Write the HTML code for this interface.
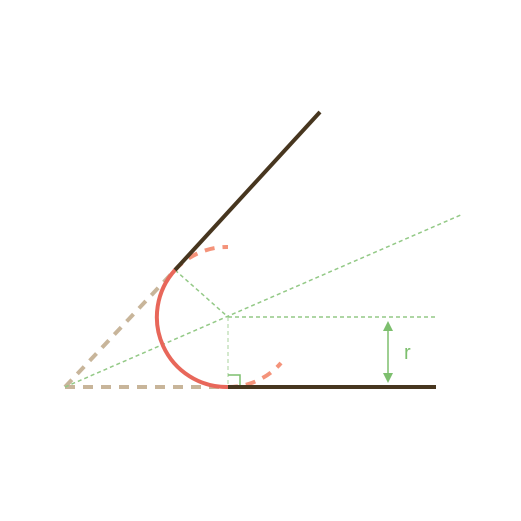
<!DOCTYPE html>
<html><head><style>body{margin:0;background:#fff}svg{display:block}</style></head>
<body>
<svg width="521" height="521" viewBox="0 0 521 521">
<defs>
<marker id="ah" markerWidth="10" markerHeight="10" refX="5" refY="5" orient="auto-start-reverse" markerUnits="userSpaceOnUse"><path d="M0,0 L10,5 L0,10 z" fill="#7dbf6e"/></marker>
</defs>
<line x1="65" y1="387" x2="228" y2="387" stroke="#c8b59a" stroke-width="4" stroke-dasharray="10,8"/>
<line x1="65" y1="387" x2="175" y2="270" stroke="#c8b59a" stroke-width="4" stroke-dasharray="10,8"/>
<line x1="65" y1="387" x2="463" y2="214" stroke="#93c986" stroke-width="1.5" stroke-dasharray="4,3"/>
<line x1="175" y1="270" x2="228" y2="317" stroke="#93c986" stroke-width="1.5" stroke-dasharray="4,3"/>
<line x1="228" y1="317" x2="436" y2="317" stroke="#93c986" stroke-width="1.5" stroke-dasharray="4,3"/>
<line x1="228" y1="317" x2="228" y2="387" stroke="#a8d39c" stroke-width="1" stroke-dasharray="4,3"/>
<path d="M228,375 H240 V387" fill="none" stroke="#7dbf6e" stroke-width="1.5"/>
<path d="M175,270 A70,70 0 0 1 228,247" fill="none" stroke="#f4937a" stroke-width="4" stroke-dasharray="10,8"/>
<path d="M228,387 A70,70 0 0 0 281,363" fill="none" stroke="#f4937a" stroke-width="4" stroke-dasharray="10,8"/>
<path d="M175,270 A70,70 0 0 0 228,387" fill="none" stroke="#e8675a" stroke-width="4"/>
<line x1="228" y1="387" x2="436" y2="387" stroke="#47361f" stroke-width="4"/>
<line x1="175" y1="270" x2="320" y2="112" stroke="#47361f" stroke-width="4"/>
<line x1="388" y1="326" x2="388" y2="378" stroke="#7dbf6e" stroke-width="1.5" marker-start="url(#ah)" marker-end="url(#ah)"/>
<text x="404" y="359" font-family="Liberation Sans, sans-serif" font-size="20" fill="#7dbf6e">r</text>
</svg>
</body></html>
